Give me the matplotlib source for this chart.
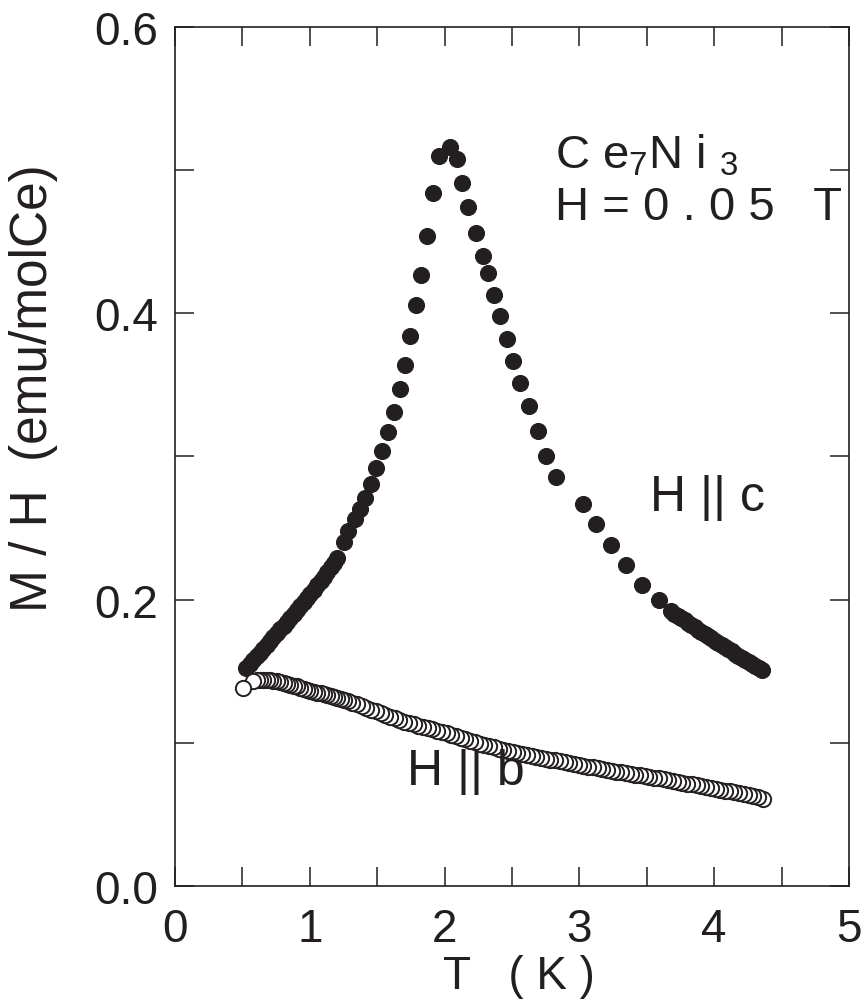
import matplotlib.pyplot as plt
from matplotlib.ticker import MultipleLocator

plt.rcParams['font.family'] = ['Liberation Sans', 'DejaVu Sans']
plt.rcParams['mathtext.default'] = 'regular'

# H || c (filled circles), T in K, M/H in emu/mol Ce
T_c = [0.530, 0.555, 0.580, 0.605, 0.630, 0.655, 0.680, 0.705,
       0.730, 0.755, 0.780, 0.805, 0.830, 0.855, 0.880, 0.905,
       0.930, 0.955, 0.980, 1.005, 1.030, 1.055, 1.080, 1.105,
       1.130, 1.155, 1.180, 1.205,
       1.252, 1.284, 1.333, 1.370, 1.412, 1.452, 1.494, 1.536,
       1.580, 1.622, 1.667, 1.706, 1.746, 1.790, 1.827, 1.869,
       1.914, 1.956, 2.042, 2.091, 2.131, 2.175, 2.235, 2.284,
       2.324, 2.368, 2.412, 2.462, 2.506, 2.561, 2.625, 2.694,
       2.753, 2.827, 3.030, 3.123, 3.235, 3.346, 3.464, 3.587,
       3.679,
       3.705, 3.730, 3.755, 3.780, 3.805, 3.830, 3.855, 3.880,
       3.905, 3.930, 3.955, 3.980, 4.005, 4.030, 4.055, 4.080,
       4.105, 4.130, 4.155, 4.180, 4.205, 4.230, 4.255, 4.280,
       4.305, 4.330, 4.355]
M_c = [0.1520, 0.1548, 0.1576, 0.1603, 0.1630, 0.1657, 0.1684, 0.1711,
       0.1738, 0.1765, 0.1792, 0.1819, 0.1846, 0.1873, 0.1900, 0.1927,
       0.1955, 0.1983, 0.2011, 0.2040, 0.2069, 0.2099, 0.2129, 0.2160,
       0.2192, 0.2225, 0.2259, 0.2294,
       0.240, 0.248, 0.256, 0.263, 0.271, 0.281, 0.292, 0.304,
       0.317, 0.331, 0.347, 0.364, 0.384, 0.406, 0.427, 0.454,
       0.484, 0.510, 0.516, 0.508, 0.491, 0.474, 0.456, 0.440,
       0.428, 0.413, 0.398, 0.382, 0.367, 0.351, 0.335, 0.318,
       0.300, 0.286, 0.267, 0.253, 0.238, 0.224, 0.210, 0.200,
       0.192,
       0.1903, 0.1887, 0.1871, 0.1855, 0.1839, 0.1823, 0.1807, 0.1791,
       0.1775, 0.1760, 0.1744, 0.1729, 0.1713, 0.1698, 0.1683, 0.1668,
       0.1653, 0.1638, 0.1623, 0.1608, 0.1594, 0.1579, 0.1565, 0.1551,
       0.1537, 0.1523, 0.1509]

# H || b (open circles)
T_b = [0.506,
       0.580, 0.605, 0.630, 0.655, 0.680, 0.705, 0.730, 0.755,
       0.780, 0.805, 0.830, 0.855, 0.880, 0.905, 0.930, 0.955,
       0.980, 1.005, 1.030, 1.055, 1.080, 1.105, 1.130, 1.155,
       1.180, 1.205, 1.230, 1.255, 1.280,
       1.315, 1.350, 1.385, 1.420, 1.455, 1.490, 1.525, 1.560,
       1.595, 1.630, 1.665, 1.700, 1.735, 1.770, 1.805, 1.840,
       1.875, 1.910, 1.945, 1.980, 2.015, 2.050, 2.085, 2.120,
       2.155, 2.190, 2.225, 2.260, 2.295, 2.330, 2.365, 2.400,
       2.435, 2.470, 2.505, 2.540, 2.575, 2.610, 2.645, 2.680,
       2.715, 2.750, 2.785, 2.820, 2.855, 2.890, 2.925, 2.960,
       2.995, 3.030, 3.065, 3.100, 3.135, 3.170, 3.205, 3.240,
       3.275, 3.310, 3.345, 3.380, 3.415, 3.450, 3.485, 3.520,
       3.555, 3.590, 3.625, 3.660, 3.695, 3.730, 3.765, 3.800,
       3.835, 3.870, 3.905, 3.940, 3.975, 4.010, 4.045, 4.080,
       4.115, 4.150, 4.185, 4.220, 4.255, 4.290, 4.325, 4.360]
M_b = [0.1386,
       0.1435, 0.1440, 0.1441, 0.1442, 0.1442, 0.1440, 0.1434, 0.1429,
       0.1424, 0.1419, 0.1412, 0.1406, 0.1400, 0.1394, 0.1386, 0.1379,
       0.1371, 0.1364, 0.1358, 0.1351, 0.1345, 0.1339, 0.1333, 0.1326,
       0.1320, 0.1314, 0.1307, 0.1300, 0.1291,
       0.1280, 0.1268, 0.1255, 0.1243, 0.1231, 0.1219, 0.1206, 0.1194,
       0.1182, 0.1170, 0.1157, 0.1145, 0.1136, 0.1128, 0.1119, 0.1110,
       0.1101, 0.1093, 0.1084, 0.1075, 0.1066, 0.1055, 0.1045, 0.1034,
       0.1024, 0.1013, 0.1004, 0.0995, 0.0986, 0.0978, 0.0969, 0.0960,
       0.0952, 0.0944, 0.0936, 0.0929, 0.0921, 0.0913, 0.0907, 0.0901,
       0.0895, 0.0889, 0.0883, 0.0877, 0.0870, 0.0864, 0.0858, 0.0852,
       0.0846, 0.0840, 0.0834, 0.0828, 0.0822, 0.0815, 0.0809, 0.0804,
       0.0798, 0.0793, 0.0787, 0.0782, 0.0777, 0.0772, 0.0766, 0.0761,
       0.0756, 0.0751, 0.0746, 0.0740, 0.0733, 0.0727, 0.0721, 0.0715,
       0.0709, 0.0703, 0.0697, 0.0690, 0.0684, 0.0678, 0.0672, 0.0666,
       0.0660, 0.0654, 0.0648, 0.0642, 0.0634, 0.0625, 0.0618, 0.0610]

ink = '#231f20'

fig = plt.figure(figsize=(8.61, 10.03), dpi=100)
ax = fig.add_axes([0.2033, 0.1157, 0.7827, 0.8564])

ax.plot(T_c, M_c, 'o', color=ink, markersize=11.5, markeredgewidth=0.8)
# measured while cooling: lower T drawn last
ax.plot(T_b[::-1], M_b[::-1], 'o', markerfacecolor='white', markeredgecolor=ink,
        markersize=11, markeredgewidth=1.4)

ax.set_xlim(0, 5)
ax.set_ylim(0, 0.6)
ax.xaxis.set_major_locator(MultipleLocator(1))
ax.xaxis.set_minor_locator(MultipleLocator(0.5))
ax.yaxis.set_major_locator(MultipleLocator(0.2))
ax.yaxis.set_minor_locator(MultipleLocator(0.1))
ax.yaxis.set_major_formatter(plt.FormatStrFormatter('%.1f'))

ax.tick_params(which='both', direction='in', top=True, right=True,
               length=13.5, width=1.1, color=ink)
ax.tick_params(axis='x', labelsize=33, pad=15, labelcolor=ink)
ax.tick_params(axis='y', labelsize=33, pad=12, labelcolor=ink)
for s in ax.spines.values():
    s.set_linewidth(1.2)
    s.set_color(ink)

fig.text(519 / 861, 1 - 977 / 1003, 'T   ( K )', fontsize=33, color=ink,
         ha='center', va='center')
fig.text(34 / 861, 1 - 388 / 1003, 'M / H  (emu/molCe)', fontsize=37,
         color=ink, ha='center', va='center', rotation=90)

ax.text(2.82, 0.511, 'C e$_7$N i $_3$', fontsize=34, color=ink, va='center')
ax.text(2.82, 0.4746, 'H = 0 . 0 5   T', fontsize=34, color=ink, va='center')
ax.text(3.948, 0.2715, 'H || c', fontsize=36, color=ink, ha='center', va='center')
ax.text(2.156, 0.0803, 'H || b', fontsize=36, color=ink, ha='center', va='center')

fig.savefig('out.png', dpi=100)
